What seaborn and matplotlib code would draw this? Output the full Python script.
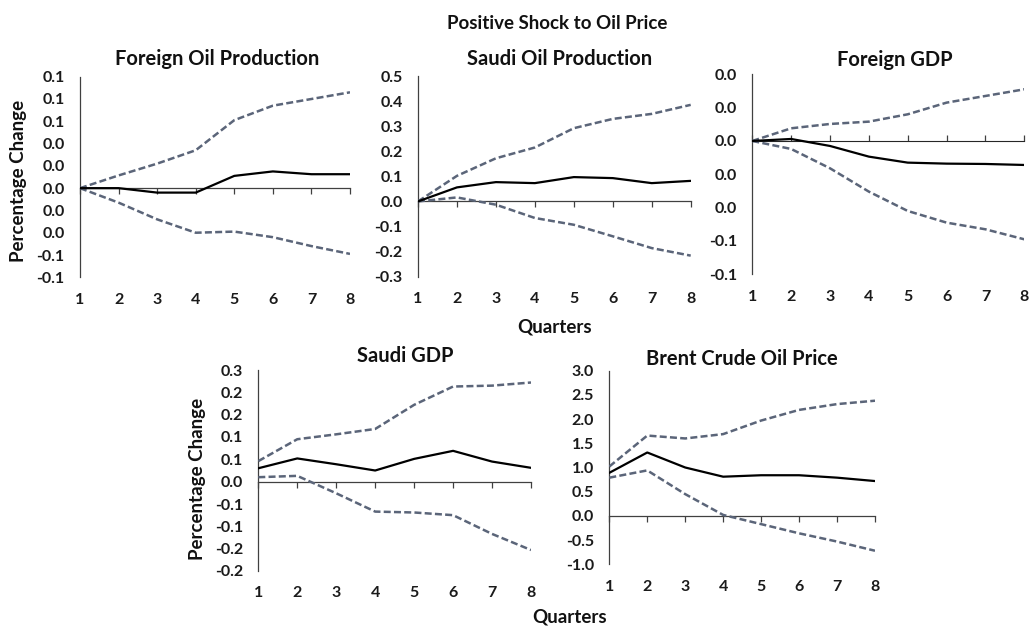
import pandas as pd
import seaborn as sns
import matplotlib.pyplot as plt

# Data (impulse responses, 8 quarters)
quarters = [1, 2, 3, 4, 5, 6, 7, 8]

fop_mid = [0.0, 0.0, -0.004, -0.004, 0.011, 0.015, 0.0125, 0.0125]
fop_hi = [0.0, 0.0114, 0.022, 0.034, 0.061, 0.074, 0.080, 0.086]
fop_lo = [0.0, -0.013, -0.028, -0.040, -0.039, -0.044, -0.052, -0.059]
fop_yticks = [-0.08, -0.06, -0.04, -0.02, 0.0, 0.02, 0.04, 0.06, 0.08, 0.10]
fop_ylabels = ["-0.1", "-0.1", "0.0", "0.0", "0.0", "0.0", "0.0", "0.1", "0.1", "0.1"]

sop_mid = [0.0, 0.056, 0.077, 0.073, 0.097, 0.093, 0.073, 0.082]
sop_hi = [0.0, 0.102, 0.172, 0.215, 0.292, 0.329, 0.349, 0.385]
sop_lo = [0.0, 0.016, -0.013, -0.066, -0.093, -0.139, -0.186, -0.216]
sop_yticks = [-0.3, -0.2, -0.1, 0.0, 0.1, 0.2, 0.3, 0.4, 0.5]
sop_ylabels = ["-0.3", "-0.2", "-0.1", "0.0", "0.1", "0.2", "0.3", "0.4", "0.5"]

fgdp_mid = [0.0, 0.0012, -0.003, -0.0094, -0.013, -0.0136, -0.0138, -0.0144]
fgdp_hi = [0.0, 0.0076, 0.0102, 0.0116, 0.016, 0.023, 0.027, 0.031]
fgdp_lo = [0.0, -0.0048, -0.0164, -0.0304, -0.042, -0.049, -0.053, -0.059]
fgdp_yticks = [-0.08, -0.06, -0.04, -0.02, 0.0, 0.02, 0.04]
fgdp_ylabels = ["-0.1", "-0.1", "0.0", "0.0", "0.0", "0.0", "0.0"]

sgdp_mid = [0.030, 0.052, 0.039, 0.025, 0.051, 0.069, 0.045, 0.031]
sgdp_hi = [0.046, 0.095, 0.106, 0.118, 0.172, 0.213, 0.215, 0.222]
sgdp_lo = [0.010, 0.013, -0.026, -0.067, -0.069, -0.075, -0.117, -0.153]
sgdp_yticks = [-0.20, -0.15, -0.10, -0.05, 0.0, 0.05, 0.10, 0.15, 0.20, 0.25]
sgdp_ylabels = ["-0.2", "-0.2", "-0.1", "-0.1", "0.0", "0.1", "0.1", "0.2", "0.2", "0.3"]

brent_mid = [0.89, 1.31, 1.00, 0.81, 0.84, 0.84, 0.79, 0.72]
brent_hi = [1.02, 1.66, 1.60, 1.69, 1.97, 2.19, 2.31, 2.38]
brent_lo = [0.79, 0.94, 0.45, 0.02, -0.17, -0.36, -0.53, -0.72]
brent_yticks = [-1.0, -0.5, 0.0, 0.5, 1.0, 1.5, 2.0, 2.5, 3.0]
brent_ylabels = ["-1.0", "-0.5", "0.0", "0.5", "1.0", "1.5", "2.0", "2.5", "3.0"]

sns.set_style("white")
plt.rcParams["font.family"] = ["Lato", "DejaVu Sans"]
plt.rcParams["font.weight"] = "bold"

W, H = 1031, 626
fig = plt.figure(figsize=(W / 100, H / 100), dpi=100)


def px_axes(left, right, top, bottom):
    return fig.add_axes([left / W, 1 - bottom / H, (right - left) / W, (bottom - top) / H])


def px_text(x, y, s, **kw):
    fig.text(x / W, 1 - y / H, s, fontweight="bold", color="#111111", **kw)


panels = [
    ("Foreign Oil Production", (80, 350, 76.7, 277.3), (217.5, 65), fop_mid, fop_hi, fop_lo, fop_yticks, fop_ylabels),
    ("Saudi Oil Production", (418, 690.7, 76, 276.7), (559.5, 65), sop_mid, sop_hi, sop_lo, sop_yticks, sop_ylabels),
    ("Foreign GDP", (752.3, 1024.3, 74.3, 274.3), (895, 66.5), fgdp_mid, fgdp_hi, fgdp_lo, fgdp_yticks, fgdp_ylabels),
    ("Saudi GDP", (258.3, 531, 370, 571), (405, 362.5), sgdp_mid, sgdp_hi, sgdp_lo, sgdp_yticks, sgdp_ylabels),
    ("Brent Crude Oil Price", (609.3, 875, 370.7, 564.3), (742, 365), brent_mid, brent_hi, brent_lo, brent_yticks, brent_ylabels),
]

band_color = "#5b6579"
axis_color = "#404040"

for title, box, tpos, mid, hi, lo, yticks, ylabels in panels:
    ax = px_axes(*box)
    df = pd.DataFrame({"Quarter": quarters, "mid": mid, "hi": hi, "lo": lo})
    sns.lineplot(data=df, x="Quarter", y="hi", ax=ax, color=band_color, lw=1.8,
                 linestyle=(0, (2.8, 1.3)), zorder=3)
    sns.lineplot(data=df, x="Quarter", y="lo", ax=ax, color=band_color, lw=1.8,
                 linestyle=(0, (2.8, 1.3)), zorder=3)
    sns.lineplot(data=df, x="Quarter", y="mid", ax=ax, color="black", lw=1.6, zorder=4)

    ymin, ymax = yticks[0], yticks[-1]
    ax.set_xlim(1, 8)
    ax.set_ylim(ymin, ymax)
    ax.set(xlabel="", ylabel="")
    ax.set_yticks(yticks)
    ax.set_yticklabels(ylabels)
    ax.set_xticks(quarters)
    ax.set_xticklabels([str(q) for q in quarters])
    for side in ["top", "right", "bottom"]:
        ax.spines[side].set_visible(False)
    ax.spines["left"].set_color(axis_color)
    ax.spines["left"].set_linewidth(0.9)
    ax.tick_params(axis="y", length=4, width=0.9, color=axis_color, pad=7,
                   labelsize=11.5, labelcolor="#1a1a1a")
    ax.tick_params(axis="x", length=0, pad=11, labelsize=11.5, labelcolor="#1a1a1a")
    for lab in ax.get_xticklabels() + ax.get_yticklabels():
        lab.set_fontweight("bold")

    # horizontal axis line crossing at zero, tick labels stay at the bottom
    zero_frac = (0 - ymin) / (ymax - ymin)
    sec = ax.secondary_xaxis(zero_frac)
    sec.set_xticks(quarters)
    sec.set_xticklabels([])
    sec.spines["bottom"].set_color(axis_color)
    sec.spines["bottom"].set_linewidth(0.9)
    sec.tick_params(axis="x", length=4, width=0.9, color=axis_color, direction="out")

    px_text(tpos[0], tpos[1], title, fontsize=14.5, ha="center", va="baseline")

px_text(557, 29, "Positive Shock to Oil Price", fontsize=13.5, ha="center", va="baseline")
px_text(555, 327, "Quarters", fontsize=13.5, ha="center", va="center")
px_text(570, 617, "Quarters", fontsize=13.5, ha="center", va="center")
px_text(19, 181, "Percentage Change", fontsize=13.5, ha="center", va="center", rotation=90)
px_text(198, 479, "Percentage Change", fontsize=13.5, ha="center", va="center", rotation=90)

plt.savefig("out.png", dpi=100)
